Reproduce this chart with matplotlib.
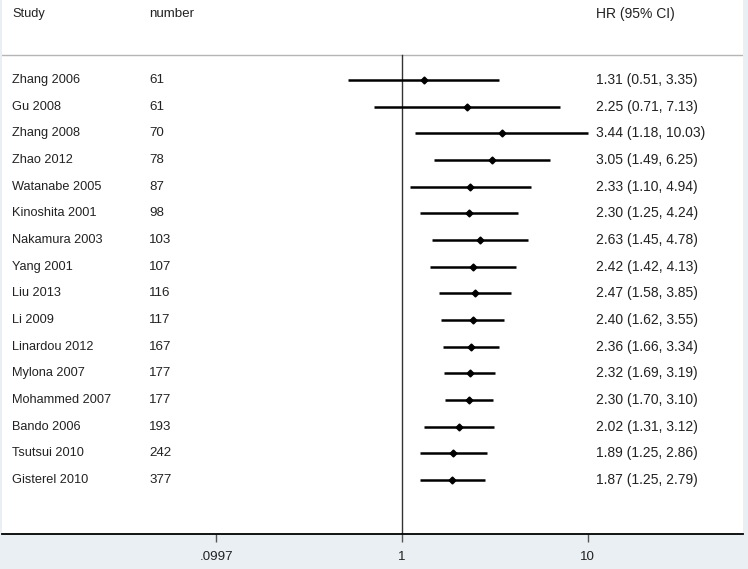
import matplotlib
matplotlib.use("Agg")
import matplotlib.pyplot as plt
import numpy as np

plt.rcParams['font.family'] = ['Liberation Sans', 'DejaVu Sans']

studies = ["Zhang 2006", "Gu 2008", "Zhang 2008", "Zhao 2012", "Watanabe 2005",
           "Kinoshita 2001", "Nakamura 2003", "Yang 2001", "Liu 2013", "Li 2009",
           "Linardou 2012", "Mylona 2007", "Mohammed 2007", "Bando 2006",
           "Tsutsui 2010", "Gisterel 2010"]
numbers = [61, 61, 70, 78, 87, 98, 103, 107, 116, 117, 167, 177, 177, 193, 242, 377]
hr = [1.31, 2.25, 3.44, 3.05, 2.33, 2.30, 2.63, 2.42, 2.47, 2.40, 2.36, 2.32, 2.30, 2.02, 1.89, 1.87]
lo = [0.51, 0.71, 1.18, 1.49, 1.10, 1.25, 1.45, 1.42, 1.58, 1.62, 1.66, 1.69, 1.70, 1.31, 1.25, 1.25]
hi = [3.35, 7.13, 10.03, 6.25, 4.94, 4.24, 4.78, 4.13, 3.85, 3.55, 3.34, 3.19, 3.10, 3.12, 2.86, 2.79]
tick_vals = [0.0997, 1, 10]
tick_labels = [".0997", "1", "10"]

W, H = 748, 569
fig = plt.figure(figsize=(W / 100, H / 100), dpi=100, facecolor='#e9eff2')
ax_left, ax_right, ax_top, ax_bot = 2, 743, 0, 534
ax = fig.add_axes([ax_left / W, (H - ax_bot) / H, (ax_right - ax_left) / W, (ax_bot - ax_top) / H])
ax.set_facecolor('white')

px_dec = 185.5
x1 = 402.0
ax.set_xscale('log')
ax.set_xlim(10 ** ((ax_left - x1) / px_dec), 10 ** ((ax_right - x1) / px_dec))

row0 = 80.0
row_h = 26.67
ymin = (ax_top - row0) / row_h
ymax = (ax_bot - row0) / row_h
ax.set_ylim(ymax, ymin)

rows = np.arange(len(studies))
for i in rows:
    ax.plot([lo[i], hi[i]], [i, i], color='black', lw=1.8, solid_capstyle='butt', zorder=3)
ax.plot(hr, rows, 'D', color='black', ms=3.5, zorder=4)

sep = (55 - row0) / row_h
ax.axhline(sep, color='#b5b5b5', lw=1.0)
ax.plot([1, 1], [sep, ymax], color='#333333', lw=1.0, zorder=2)

fs_study = 9.2
fs_num = 9.6
fs_hr = 10.0
col_study = (12 - ax_left) / (ax_right - ax_left)
col_num = (149 - ax_left) / (ax_right - ax_left)
col_hr = (596 - ax_left) / (ax_right - ax_left)
tc = '#222222'
hdr = (14 - row0) / row_h
tr = ax.get_yaxis_transform()
ax.text(col_study, hdr, "Study", transform=tr, fontsize=fs_study, va='center', color=tc)
ax.text(col_num, hdr, "number", transform=tr, fontsize=fs_num, va='center', color=tc)
ax.text(col_hr, hdr, "HR (95% CI)", transform=tr, fontsize=fs_hr, va='center', color=tc)
for i in rows:
    ax.text(col_study, i, studies[i], transform=tr, fontsize=fs_study, va='center', color=tc)
    ax.text(col_num, i, str(numbers[i]), transform=tr, fontsize=fs_num, va='center', color=tc)
    ax.text(col_hr, i, f"{hr[i]:.2f} ({lo[i]:.2f}, {hi[i]:.2f})",
            transform=tr, fontsize=fs_hr, va='center', color=tc)

for s in ['top', 'left', 'right']:
    ax.spines[s].set_visible(False)
ax.spines['bottom'].set_color('black')
ax.spines['bottom'].set_linewidth(1.3)
ax.set_yticks([])
ax.set_xticks(tick_vals)
ax.set_xticklabels(tick_labels)
ax.xaxis.set_minor_locator(matplotlib.ticker.NullLocator())
ax.tick_params(axis='x', direction='out', length=6, width=1, color='#555555', labelsize=9.6, pad=6, labelcolor=tc)

fig.savefig('out.png', dpi=100, facecolor=fig.get_facecolor())
